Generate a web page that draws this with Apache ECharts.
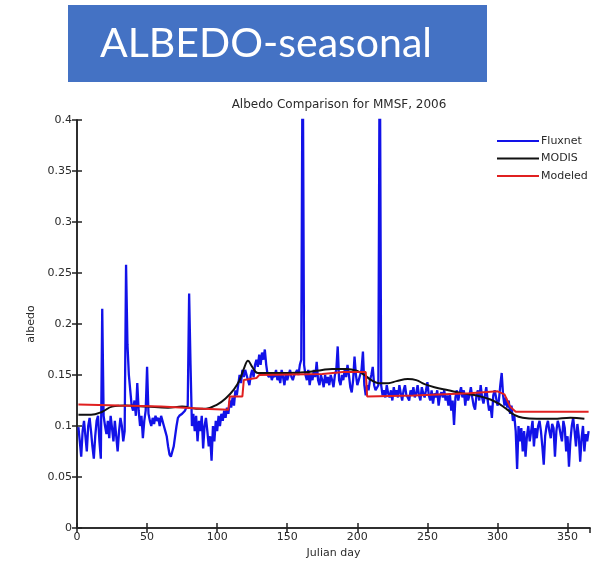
<!DOCTYPE html>
<html>
<head>
<meta charset="utf-8">
<script src="https://cdn.jsdelivr.net/npm/echarts@6/dist/echarts.min.js"></script>
<style>
html,body{margin:0;padding:0;background:#fff;}
#c{width:600px;height:565px;}
</style>
</head>
<body>
<div id="c"></div>
<script>
// ---- data ----
var headerText = 'ALBEDO-seasonal';
var chartTitle = 'Albedo Comparison for MMSF, 2006';
var xName = 'Julian day';
var yName = 'albedo';
var seriesNames = ['Fluxnet', 'MODIS', 'Modeled'];

// Fluxnet daily albedo, day 1 .. 365
var fluxnetFirstDay = 1;
var fluxnet = [
  0.099,0.085,0.070,0.095,0.105,0.090,0.075,0.100,0.108,0.095,
  0.080,0.068,0.090,0.105,0.110,0.085,0.068,0.215,0.110,0.100,
  0.092,0.105,0.088,0.110,0.098,0.085,0.105,0.090,0.075,0.095,
  0.108,0.100,0.085,0.095,0.258,0.180,0.150,0.135,0.120,0.115,
  0.125,0.110,0.142,0.115,0.100,0.110,0.088,0.105,0.115,0.158,
  0.112,0.105,0.100,0.108,0.102,0.110,0.105,0.108,0.100,0.110,
  0.105,0.100,0.095,0.090,0.080,0.072,0.070,0.075,0.080,0.090,
  0.100,0.108,0.110,0.110,0.112,0.112,0.115,0.118,0.120,0.230,
  0.160,0.100,0.112,0.095,0.110,0.085,0.105,0.095,0.110,0.078,
  0.100,0.108,0.095,0.080,0.090,0.066,0.100,0.085,0.105,0.095,
  0.110,0.100,0.112,0.105,0.115,0.108,0.118,0.112,0.125,0.118,
  0.128,0.120,0.135,0.130,0.140,0.150,0.142,0.155,0.148,0.155,
  0.150,0.145,0.140,0.150,0.155,0.148,0.160,0.165,0.158,0.170,
  0.160,0.172,0.165,0.175,0.160,0.150,0.148,0.152,0.145,0.150,
  0.148,0.155,0.145,0.150,0.142,0.155,0.148,0.140,0.152,0.145,
  0.150,0.155,0.148,0.145,0.150,0.152,0.155,0.150,0.160,0.165,
  0.500,0.160,0.150,0.145,0.155,0.140,0.150,0.145,0.155,0.148,
  0.163,0.145,0.140,0.150,0.145,0.138,0.150,0.142,0.148,0.140,
  0.150,0.145,0.138,0.150,0.155,0.178,0.145,0.140,0.150,0.145,
  0.155,0.148,0.160,0.150,0.138,0.133,0.145,0.168,0.150,0.140,
  0.145,0.150,0.155,0.173,0.140,0.130,0.140,0.135,0.145,0.150,
  0.158,0.140,0.135,0.135,0.140,0.500,0.140,0.130,0.135,0.128,
  0.140,0.132,0.128,0.135,0.125,0.138,0.130,0.135,0.128,0.140,
  0.132,0.125,0.135,0.140,0.130,0.128,0.125,0.135,0.130,0.138,
  0.128,0.132,0.140,0.130,0.125,0.138,0.132,0.128,0.135,0.143,
  0.130,0.125,0.135,0.122,0.132,0.128,0.135,0.120,0.130,0.133,
  0.128,0.135,0.125,0.130,0.120,0.132,0.115,0.125,0.101,0.128,
  0.135,0.125,0.132,0.138,0.128,0.135,0.120,0.132,0.125,0.130,
  0.138,0.128,0.120,0.116,0.130,0.135,0.125,0.140,0.128,0.122,
  0.130,0.138,0.125,0.115,0.120,0.108,0.130,0.135,0.128,0.120,
  0.125,0.140,0.152,0.130,0.120,0.128,0.118,0.125,0.112,0.120,
  0.105,0.110,0.095,0.058,0.100,0.085,0.098,0.075,0.095,0.070,
  0.090,0.100,0.085,0.095,0.105,0.080,0.098,0.088,0.100,0.105,
  0.095,0.080,0.062,0.090,0.100,0.105,0.095,0.088,0.102,0.098,
  0.070,0.095,0.105,0.100,0.092,0.085,0.105,0.098,0.075,0.090,
  0.060,0.085,0.100,0.108,0.095,0.080,0.102,0.090,0.065,0.088,
  0.100,0.075,0.092,0.085,0.095
];

// MODIS (smooth curve) [day, albedo]
var modis = [
  [1,0.111],[10,0.111],[18,0.114],[25,0.119],[35,0.120],[50,0.119],[65,0.118],
  [75,0.119],[85,0.117],[92,0.117],[100,0.121],[106,0.127],[112,0.136],[116,0.145],
  [119,0.156],[122,0.164],[125,0.158],[129,0.152],[140,0.152],[150,0.152],
  [165,0.153],[175,0.155],[182,0.156],[192,0.156],[200,0.154],[205,0.150],
  [210,0.145],[215,0.142],[222,0.142],[228,0.144],[236,0.146],[242,0.145],
  [248,0.141],[255,0.138],[265,0.135],[275,0.132],[285,0.130],[295,0.126],
  [302,0.121],[307,0.116],[312,0.111],[318,0.108],[328,0.107],[340,0.107],
  [352,0.108],[362,0.107]
];

// Modeled (step-like) [day, albedo]
var modeled = [
  [1,0.121],[30,0.120],[60,0.119],[90,0.117],[108,0.116],[109,0.129],[118,0.129],
  [119,0.145],[128,0.147],[130,0.150],[175,0.151],[190,0.153],[206,0.153],
  [207,0.129],[240,0.130],[280,0.132],[300,0.134],[305,0.131],[309,0.119],
  [313,0.114],[365,0.114]
];

var xTicks = {min: 0, max: 366, interval: 50};
var yTicks = {min: 0, max: 0.4, interval: 0.05};

// ---- chart ----
var fluxPairs = fluxnet.map(function (v, i) { return [fluxnetFirstDay + i, v]; });

var chart = echarts.init(document.getElementById('c'), null, {renderer: 'canvas'});
var FONT = 'DejaVu Sans';
var axisLineStyle = {color: '#222', width: 1.5};

chart.setOption({
  backgroundColor: '#fff',
  animation: false,
  title: {
    text: chartTitle,
    left: 334, top: 94, textAlign: 'center',
    textStyle: {fontFamily: FONT, fontSize: 12, fontWeight: 'normal', color: '#2a2a2a'}
  },
  graphic: [
    {type: 'rect', shape: {x: 68, y: 5, width: 419, height: 77}, style: {fill: '#4472C4'}, silent: true},
    {type: 'text', x: 100, y: 44, style: {text: headerText, fill: '#fff', font: '41px Lato', textVerticalAlign: 'middle', verticalAlign: 'middle'}, silent: true}
  ],
  legend: {
    orient: 'vertical',
    left: 492, top: 129,
    itemWidth: 42, itemHeight: 2, itemGap: 3.5,
    icon: 'rect',
    textStyle: {fontFamily: FONT, fontSize: 11, color: '#2a2a2a', lineHeight: 14, padding: [0,0,0,-3]},
    data: seriesNames
  },
  grid: {left: 77, right: 10, top: 120, bottom: 37},
  xAxis: [
    {
      type: 'value', min: xTicks.min, max: xTicks.max, interval: xTicks.interval,
      name: xName, nameLocation: 'middle', nameGap: 20,
      nameTextStyle: {fontFamily: FONT, fontSize: 11, color: '#2a2a2a'},
      axisLine: {show: true, lineStyle: axisLineStyle},
      axisTick: {show: true, inside: true, length: 5, lineStyle: {color: '#222', width: 1.5}},
      axisLabel: {fontFamily: FONT, fontSize: 11, color: '#2a2a2a', margin: 4, showMaxLabel: false},
      splitLine: {show: false}
    },
    {
      type: 'value', position: 'top', min: xTicks.min, max: xTicks.max, interval: xTicks.interval,
      axisLine: {show: true, lineStyle: axisLineStyle},
      axisTick: {show: true, inside: true, length: 5, lineStyle: {color: '#222', width: 1.5}},
      axisLabel: {show: false}, splitLine: {show: false}
    }
  ],
  yAxis: [
    {
      type: 'value', min: yTicks.min, max: yTicks.max, interval: yTicks.interval,
      name: yName, nameLocation: 'middle', nameGap: 38,
      nameTextStyle: {fontFamily: FONT, fontSize: 11, color: '#2a2a2a'},
      axisLine: {show: true, lineStyle: axisLineStyle},
      axisTick: {show: true, inside: true, length: 5, lineStyle: {color: '#222', width: 1.5}},
      axisLabel: {fontFamily: FONT, fontSize: 11, color: '#2a2a2a', margin: 5},
      splitLine: {show: false}
    },
    {
      type: 'value', position: 'right', min: yTicks.min, max: yTicks.max, interval: yTicks.interval,
      axisLine: {show: true, lineStyle: axisLineStyle},
      axisTick: {show: true, inside: true, length: 5, lineStyle: {color: '#222', width: 1.5}},
      axisLabel: {show: false}, splitLine: {show: false}
    }
  ],
  series: [
    {
      name: seriesNames[0], type: 'line', data: fluxPairs, showSymbol: false, symbol: 'none',
      clip: true, color: '#1212e8', lineStyle: {color: '#1212e8', width: 2.3}, z: 2
    },
    {
      name: seriesNames[1], type: 'line', data: modis, showSymbol: false, symbol: 'none',
      smooth: 0.4, clip: true, color: '#111', lineStyle: {color: '#111', width: 2}, z: 3
    },
    {
      name: seriesNames[2], type: 'line', data: modeled, showSymbol: false, symbol: 'none',
      clip: true, color: '#e02020', lineStyle: {color: '#e02020', width: 2}, z: 4
    }
  ]
});
</script>
</body>
</html>
